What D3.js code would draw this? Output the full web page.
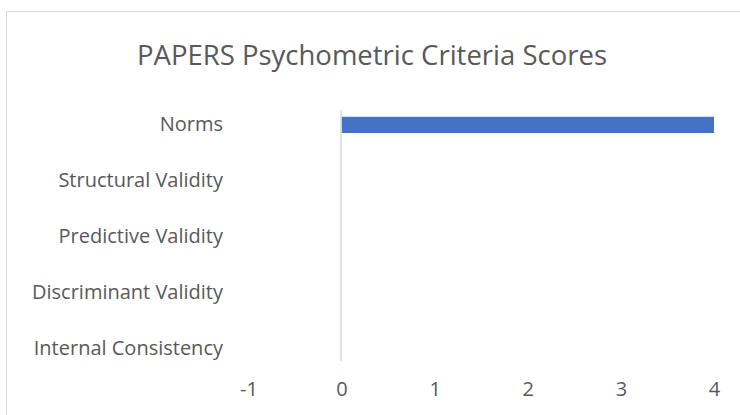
<!DOCTYPE html>
<html>
<head>
<meta charset="utf-8">
<script src="https://cdn.jsdelivr.net/npm/d3@7"></script>
<style>
  html, body { margin: 0; padding: 0; background: #fff; }
  svg { display: block; font-family: "Open Sans", sans-serif; }
</style>
</head>
<body>
<div class="container"></div>
<script>
// chart data
const categories = ['Norms', 'Structural Validity', 'Predictive Validity', 'Discriminant Validity', 'Internal Consistency'];
const scores = [4, 0, 0, 0, 0];
const xTicks = [-1, 0, 1, 2, 3, 4];
const chartTitle = 'PAPERS Psychometric Criteria Scores';

const width = 740;
const height = 415;

const svg = d3.select('.container').append('svg')
    .attr('width', width)
    .attr('height', height);

// outer chart frame (cropped on right / bottom)
svg.append('rect')
    .attr('x', 6.5)
    .attr('y', 11.5)
    .attr('width', width + 10)
    .attr('height', height + 10)
    .attr('fill', 'none')
    .attr('stroke', '#d9d9d9');

svg.append('text')
    .attr('x', 372)
    .attr('y', 65)
    .attr('text-anchor', 'middle')
    .attr('fill', '#595959')
    .style('font-size', '27.5px')
    .text(chartTitle);

const x = d3.scaleLinear()
    .domain([-1, 4])
    .range([248.4, 714]);

const y = d3.scaleBand()
    .domain(categories)
    .range([97, 376])
    .paddingInner(0.71)
    .paddingOuter(0.355);

// category labels
const yAxis = svg.append('g')
    .attr('transform', 'translate(223,0)')
    .call(d3.axisLeft(y).tickSize(0).tickPadding(0));
yAxis.select('.domain').remove();
yAxis.selectAll('text')
    .attr('fill', '#595959')
    .style('font-size', '20px')
    .style('font-family', '"Open Sans", sans-serif');

// value labels along the bottom
const xAxis = svg.append('g')
    .attr('transform', 'translate(0,382)')
    .call(d3.axisBottom(x).tickValues(xTicks).tickFormat(d3.format('d')).tickSize(0).tickPadding(0));
xAxis.select('.domain').remove();
xAxis.selectAll('text')
    .attr('fill', '#595959')
    .attr('dy', '0.71em')
    .style('font-size', '20px')
    .style('font-family', '"Open Sans", sans-serif')
    .text(d => d < 0 ? '-' + Math.abs(d) : d);

// bars
svg.append('g')
    .selectAll('rect')
    .data(categories.map((c, i) => ({key: c, value: scores[i]})))
    .enter()
    .append('rect')
    .attr('x', d => x(Math.min(0, d.value)))
    .attr('y', d => y(d.key))
    .attr('width', d => Math.abs(x(d.value) - x(0)))
    .attr('height', y.bandwidth())
    .attr('fill', '#4472c4');

// vertical axis line at zero
svg.append('line')
    .attr('x1', x(0) - 0.5)
    .attr('x2', x(0) - 0.5)
    .attr('y1', 110)
    .attr('y2', 361)
    .attr('stroke', '#d9d9d9')
    .attr('stroke-width', 1.5);
</script>
</body>
</html>
